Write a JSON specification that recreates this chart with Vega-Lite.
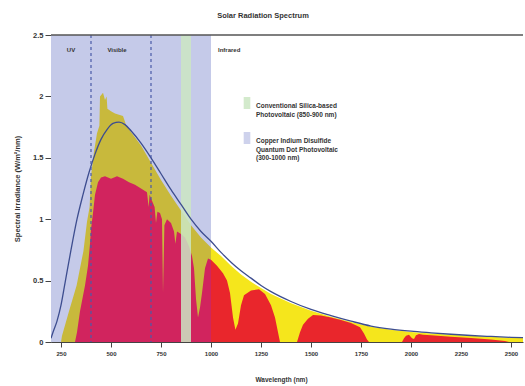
{
  "$schema": "https://vega.github.io/schema/vega-lite/v6.json",
  "width": 472,
  "height": 307,
  "autosize": {"type": "none"},
  "padding": {"left": 51, "top": 35, "right": 2, "bottom": 44},
  "background": "white",
  "title": {"text": "Solar Radiation Spectrum", "fontSize": 7.5, "font": "Liberation Sans", "fontWeight": "bold", "color": "#333333", "offset": 12, "dx": -24},
  "config": {
    "view": {"stroke": null},
    "axis": {"labelFont": "Liberation Sans", "titleFont": "Liberation Sans", "labelColor": "#333333", "titleColor": "#333333", "domainColor": "#444444", "tickColor": "#444444", "grid": false, "labelFontWeight": "bold", "titleFontWeight": "bold"},
    "legend": {"labelFont": "Liberation Sans", "labelFontWeight": "bold"}
  },
  "datasets": {
    "bands": [
      {"band": "Copper Indium Disulfide Quantum Dot Photovoltaic (300-1000 nm)", "start": 200, "end": 1000},
      {"band": "Conventional Silica-based Photovoltaic (850-900 nm)", "start": 850, "end": 900}
    ],
    "top": [
      {"wavelength": 250, "irradiance": 0},
      {"wavelength": 255, "irradiance": 0.05},
      {"wavelength": 290, "irradiance": 0.25},
      {"wavelength": 328, "irradiance": 0.46},
      {"wavelength": 362, "irradiance": 0.74},
      {"wavelength": 380, "irradiance": 0.98},
      {"wavelength": 393, "irradiance": 1.1},
      {"wavelength": 400, "irradiance": 1.35},
      {"wavelength": 415, "irradiance": 1.55},
      {"wavelength": 430, "irradiance": 1.7},
      {"wavelength": 442, "irradiance": 1.76},
      {"wavelength": 445, "irradiance": 2.0},
      {"wavelength": 460, "irradiance": 2.03},
      {"wavelength": 470, "irradiance": 1.97},
      {"wavelength": 478, "irradiance": 2.0},
      {"wavelength": 482, "irradiance": 1.9},
      {"wavelength": 500, "irradiance": 1.88},
      {"wavelength": 520, "irradiance": 1.86},
      {"wavelength": 540, "irradiance": 1.85},
      {"wavelength": 560, "irradiance": 1.84},
      {"wavelength": 575, "irradiance": 1.77},
      {"wavelength": 600, "irradiance": 1.71},
      {"wavelength": 650, "irradiance": 1.6},
      {"wavelength": 700, "irradiance": 1.46},
      {"wavelength": 750, "irradiance": 1.32},
      {"wavelength": 800, "irradiance": 1.19},
      {"wavelength": 850, "irradiance": 1.07},
      {"wavelength": 900, "irradiance": 0.95},
      {"wavelength": 950, "irradiance": 0.85},
      {"wavelength": 1000, "irradiance": 0.77},
      {"wavelength": 1050, "irradiance": 0.7},
      {"wavelength": 1100, "irradiance": 0.62},
      {"wavelength": 1150, "irradiance": 0.55},
      {"wavelength": 1200, "irradiance": 0.49},
      {"wavelength": 1250, "irradiance": 0.44},
      {"wavelength": 1300, "irradiance": 0.39},
      {"wavelength": 1400, "irradiance": 0.315},
      {"wavelength": 1500, "irradiance": 0.255},
      {"wavelength": 1600, "irradiance": 0.205},
      {"wavelength": 1700, "irradiance": 0.163},
      {"wavelength": 1800, "irradiance": 0.125},
      {"wavelength": 1900, "irradiance": 0.1},
      {"wavelength": 2000, "irradiance": 0.082},
      {"wavelength": 2100, "irradiance": 0.07},
      {"wavelength": 2200, "irradiance": 0.059},
      {"wavelength": 2300, "irradiance": 0.05},
      {"wavelength": 2400, "irradiance": 0.042},
      {"wavelength": 2500, "irradiance": 0.035},
      {"wavelength": 2560, "irradiance": 0.032}
    ],
    "sea": [
      {"wavelength": 320, "irradiance": 0},
      {"wavelength": 330, "irradiance": 0.08},
      {"wavelength": 345, "irradiance": 0.25},
      {"wavelength": 370, "irradiance": 0.46},
      {"wavelength": 385, "irradiance": 0.62},
      {"wavelength": 395, "irradiance": 0.8},
      {"wavelength": 400, "irradiance": 0.92},
      {"wavelength": 410, "irradiance": 1.05},
      {"wavelength": 420, "irradiance": 1.2},
      {"wavelength": 435, "irradiance": 1.3},
      {"wavelength": 450, "irradiance": 1.34},
      {"wavelength": 470, "irradiance": 1.35},
      {"wavelength": 500, "irradiance": 1.33},
      {"wavelength": 530, "irradiance": 1.35},
      {"wavelength": 560, "irradiance": 1.33},
      {"wavelength": 590, "irradiance": 1.3},
      {"wavelength": 620, "irradiance": 1.28},
      {"wavelength": 650, "irradiance": 1.25},
      {"wavelength": 680, "irradiance": 1.22},
      {"wavelength": 688, "irradiance": 1.1},
      {"wavelength": 693, "irradiance": 1.2},
      {"wavelength": 705, "irradiance": 1.15},
      {"wavelength": 718, "irradiance": 1.1},
      {"wavelength": 725, "irradiance": 0.97},
      {"wavelength": 732, "irradiance": 1.06},
      {"wavelength": 745, "irradiance": 1.05},
      {"wavelength": 755, "irradiance": 1.0},
      {"wavelength": 760, "irradiance": 0.4},
      {"wavelength": 767, "irradiance": 0.95},
      {"wavelength": 780, "irradiance": 1.0},
      {"wavelength": 800, "irradiance": 0.97},
      {"wavelength": 815, "irradiance": 0.9},
      {"wavelength": 822, "irradiance": 0.8},
      {"wavelength": 830, "irradiance": 0.9},
      {"wavelength": 850, "irradiance": 0.88},
      {"wavelength": 870, "irradiance": 0.85},
      {"wavelength": 890, "irradiance": 0.78},
      {"wavelength": 905, "irradiance": 0.7},
      {"wavelength": 915, "irradiance": 0.6},
      {"wavelength": 925, "irradiance": 0.35},
      {"wavelength": 935, "irradiance": 0.2},
      {"wavelength": 945, "irradiance": 0.28},
      {"wavelength": 955, "irradiance": 0.4},
      {"wavelength": 970, "irradiance": 0.6},
      {"wavelength": 985, "irradiance": 0.68},
      {"wavelength": 1000, "irradiance": 0.67},
      {"wavelength": 1030, "irradiance": 0.62},
      {"wavelength": 1060, "irradiance": 0.56},
      {"wavelength": 1080, "irradiance": 0.5},
      {"wavelength": 1095, "irradiance": 0.4},
      {"wavelength": 1110, "irradiance": 0.2},
      {"wavelength": 1122, "irradiance": 0.1},
      {"wavelength": 1135, "irradiance": 0.15},
      {"wavelength": 1150, "irradiance": 0.3},
      {"wavelength": 1165, "irradiance": 0.38},
      {"wavelength": 1200, "irradiance": 0.42},
      {"wavelength": 1240, "irradiance": 0.43},
      {"wavelength": 1270, "irradiance": 0.39},
      {"wavelength": 1300, "irradiance": 0.3},
      {"wavelength": 1320, "irradiance": 0.2},
      {"wavelength": 1335, "irradiance": 0.08},
      {"wavelength": 1345, "irradiance": 0},
      {"wavelength": 1430, "irradiance": 0},
      {"wavelength": 1445, "irradiance": 0.08},
      {"wavelength": 1460, "irradiance": 0.14},
      {"wavelength": 1485, "irradiance": 0.19},
      {"wavelength": 1510, "irradiance": 0.22},
      {"wavelength": 1550, "irradiance": 0.215},
      {"wavelength": 1600, "irradiance": 0.2},
      {"wavelength": 1650, "irradiance": 0.18},
      {"wavelength": 1700, "irradiance": 0.155},
      {"wavelength": 1745, "irradiance": 0.12},
      {"wavelength": 1765, "irradiance": 0.07},
      {"wavelength": 1780, "irradiance": 0.02},
      {"wavelength": 1790, "irradiance": 0},
      {"wavelength": 1955, "irradiance": 0},
      {"wavelength": 1965, "irradiance": 0.03},
      {"wavelength": 1975, "irradiance": 0.05},
      {"wavelength": 1990, "irradiance": 0.06},
      {"wavelength": 2005, "irradiance": 0.03},
      {"wavelength": 2015, "irradiance": 0.025},
      {"wavelength": 2025, "irradiance": 0.055},
      {"wavelength": 2040, "irradiance": 0.065},
      {"wavelength": 2060, "irradiance": 0.06},
      {"wavelength": 2100, "irradiance": 0.055},
      {"wavelength": 2200, "irradiance": 0.043},
      {"wavelength": 2300, "irradiance": 0.032},
      {"wavelength": 2400, "irradiance": 0.02},
      {"wavelength": 2470, "irradiance": 0.008},
      {"wavelength": 2490, "irradiance": 0}
    ],
    "bb": [
      {"wavelength": 200, "irradiance": 0.03},
      {"wavelength": 210, "irradiance": 0.08},
      {"wavelength": 230, "irradiance": 0.17},
      {"wavelength": 250, "irradiance": 0.3},
      {"wavelength": 270, "irradiance": 0.48},
      {"wavelength": 300, "irradiance": 0.75},
      {"wavelength": 330, "irradiance": 1.0},
      {"wavelength": 360, "irradiance": 1.2},
      {"wavelength": 390, "irradiance": 1.38},
      {"wavelength": 420, "irradiance": 1.53},
      {"wavelength": 450, "irradiance": 1.65},
      {"wavelength": 480, "irradiance": 1.73},
      {"wavelength": 510, "irradiance": 1.78},
      {"wavelength": 540, "irradiance": 1.79},
      {"wavelength": 570, "irradiance": 1.77},
      {"wavelength": 600, "irradiance": 1.72},
      {"wavelength": 650, "irradiance": 1.62},
      {"wavelength": 700, "irradiance": 1.5},
      {"wavelength": 750, "irradiance": 1.37},
      {"wavelength": 800, "irradiance": 1.24},
      {"wavelength": 850, "irradiance": 1.12},
      {"wavelength": 900, "irradiance": 1.0},
      {"wavelength": 950, "irradiance": 0.9},
      {"wavelength": 1000, "irradiance": 0.82},
      {"wavelength": 1050, "irradiance": 0.73},
      {"wavelength": 1100, "irradiance": 0.65},
      {"wavelength": 1150, "irradiance": 0.58},
      {"wavelength": 1200, "irradiance": 0.52},
      {"wavelength": 1250, "irradiance": 0.46},
      {"wavelength": 1300, "irradiance": 0.41},
      {"wavelength": 1400, "irradiance": 0.33},
      {"wavelength": 1500, "irradiance": 0.265},
      {"wavelength": 1600, "irradiance": 0.215},
      {"wavelength": 1700, "irradiance": 0.17},
      {"wavelength": 1800, "irradiance": 0.13},
      {"wavelength": 1900, "irradiance": 0.105},
      {"wavelength": 2000, "irradiance": 0.088},
      {"wavelength": 2100, "irradiance": 0.075},
      {"wavelength": 2200, "irradiance": 0.063},
      {"wavelength": 2300, "irradiance": 0.053},
      {"wavelength": 2400, "irradiance": 0.045},
      {"wavelength": 2500, "irradiance": 0.038},
      {"wavelength": 2560, "irradiance": 0.035}
    ]
  },
  "layer": [
    {
      "data": {"name": "bands"},
      "transform": [{"filter": "datum.start < 300"}],
      "mark": {"type": "rect", "clip": true},
      "encoding": {
        "x": {"field": "start", "type": "quantitative", "scale": {"domain": [200, 2560], "nice": false, "zero": false}},
        "x2": {"field": "end"},
        "color": {
          "field": "band", "type": "nominal",
          "scale": {"domain": ["Conventional Silica-based Photovoltaic (850-900 nm)", "Copper Indium Disulfide Quantum Dot Photovoltaic (300-1000 nm)"], "range": ["#cbe6c3", "#c5cae9"]},
          "legend": {
            "orient": "none", "legendX": 190, "legendY": 62, "title": null,
            "symbolType": "M-0.55,-1H0.55V1H-0.55Z", "symbolSize": 144, "symbolOpacity": 1, "symbolStrokeWidth": 0,
            "labelFontSize": 6.5, "labelColor": "#333333", "labelBaseline": "top", "labelOffset": 3, "rowPadding": 14,
            "labelExpr": "datum.label == 'Conventional Silica-based Photovoltaic (850-900 nm)' ? ['Conventional Silica-based', 'Photovoltaic (850-900 nm)'] : ['Copper Indium Disulfide', 'Quantum Dot Photovoltaic', '(300-1000 nm)']"
          }
        }
      }
    },
    {
      "data": {"name": "top"},
      "transform": [{"filter": "datum.wavelength <= 1000"}],
      "mark": {"type": "area", "color": "#c8b93c", "clip": true},
      "encoding": {
        "x": {"field": "wavelength", "type": "quantitative", "scale": {"domain": [200, 2560], "nice": false, "zero": false},
          "axis": {"title": "Wavelength (nm)", "values": [250, 500, 750, 1000, 1250, 1500, 1750, 2000, 2250, 2500], "format": "d", "labelFontSize": 6, "titleFontSize": 6.5, "tickSize": 5, "labelPadding": 3, "titlePadding": 20, "titleX": 230}},
        "y": {"field": "irradiance", "type": "quantitative", "scale": {"domain": [0, 2.5], "nice": false},
          "axis": {"title": "Spectral Irradiance (W/m²/nm)", "values": [0, 0.5, 1, 1.5, 2, 2.5], "format": "~g", "labelFontSize": 7.5, "titleFontSize": 7.5, "tickSize": 6, "labelPadding": 2, "titlePadding": 11}}
      }
    },
    {
      "data": {"name": "top"},
      "transform": [{"filter": "datum.wavelength >= 1000"}],
      "mark": {"type": "area", "color": "#f5e61c", "clip": true},
      "encoding": {
        "x": {"field": "wavelength", "type": "quantitative", "scale": {"domain": [200, 2560], "nice": false, "zero": false}},
        "y": {"field": "irradiance", "type": "quantitative", "scale": {"domain": [0, 2.5], "nice": false}}
      }
    },
    {
      "data": {"name": "sea"},
      "transform": [{"filter": "datum.wavelength <= 1000"}],
      "mark": {"type": "area", "color": "#d1245e", "clip": true},
      "encoding": {
        "x": {"field": "wavelength", "type": "quantitative", "scale": {"domain": [200, 2560], "nice": false, "zero": false}},
        "y": {"field": "irradiance", "type": "quantitative", "scale": {"domain": [0, 2.5], "nice": false}}
      }
    },
    {
      "data": {"name": "sea"},
      "transform": [{"filter": "datum.wavelength >= 1000"}],
      "mark": {"type": "area", "color": "#e9262c", "clip": true},
      "encoding": {
        "x": {"field": "wavelength", "type": "quantitative", "scale": {"domain": [200, 2560], "nice": false, "zero": false}},
        "y": {"field": "irradiance", "type": "quantitative", "scale": {"domain": [0, 2.5], "nice": false}}
      }
    },
    {
      "data": {"name": "bands"},
      "transform": [{"filter": "datum.start >= 300"}],
      "mark": {"type": "rect", "opacity": 0.85, "clip": true},
      "encoding": {
        "x": {"field": "start", "type": "quantitative", "scale": {"domain": [200, 2560], "nice": false, "zero": false}},
        "x2": {"field": "end"},
        "color": {"field": "band", "type": "nominal"}
      }
    },
    {
      "data": {"name": "bb"},
      "mark": {"type": "line", "color": "#3d4d8f", "strokeWidth": 1.3, "interpolate": "monotone", "clip": true},
      "encoding": {
        "x": {"field": "wavelength", "type": "quantitative", "scale": {"domain": [200, 2560], "nice": false, "zero": false}},
        "y": {"field": "irradiance", "type": "quantitative", "scale": {"domain": [0, 2.5], "nice": false}}
      }
    },
    {
      "data": {"values": [{"boundary": 400}, {"boundary": 700}]},
      "mark": {"type": "rule", "color": "#4a5aa8", "strokeWidth": 1.2, "strokeDash": [3, 3]},
      "encoding": {"x": {"field": "boundary", "type": "quantitative"}}
    },
    {
      "data": {"values": [{"top": 2.5}]},
      "mark": {"type": "rule", "color": "#555555", "strokeWidth": 1.5},
      "encoding": {"y": {"field": "top", "type": "quantitative"}}
    },
    {
      "data": {"values": [{}]},
      "mark": {"type": "text", "font": "Liberation Sans", "fontWeight": "bold", "fontSize": 6, "color": "#333333", "align": "center", "baseline": "middle", "text": "UV"},
      "encoding": {"x": {"datum": 300, "type": "quantitative"}, "y": {"datum": 2.38, "type": "quantitative"}}
    },
    {
      "data": {"values": [{}]},
      "mark": {"type": "text", "font": "Liberation Sans", "fontWeight": "bold", "fontSize": 6, "color": "#333333", "align": "center", "baseline": "middle", "text": "Visible"},
      "encoding": {"x": {"datum": 530, "type": "quantitative"}, "y": {"datum": 2.38, "type": "quantitative"}}
    },
    {
      "data": {"values": [{}]},
      "mark": {"type": "text", "font": "Liberation Sans", "fontWeight": "bold", "fontSize": 6, "color": "#333333", "align": "left", "baseline": "middle", "text": "Infrared"},
      "encoding": {"x": {"datum": 1035, "type": "quantitative"}, "y": {"datum": 2.38, "type": "quantitative"}}
    }
  ]
}
